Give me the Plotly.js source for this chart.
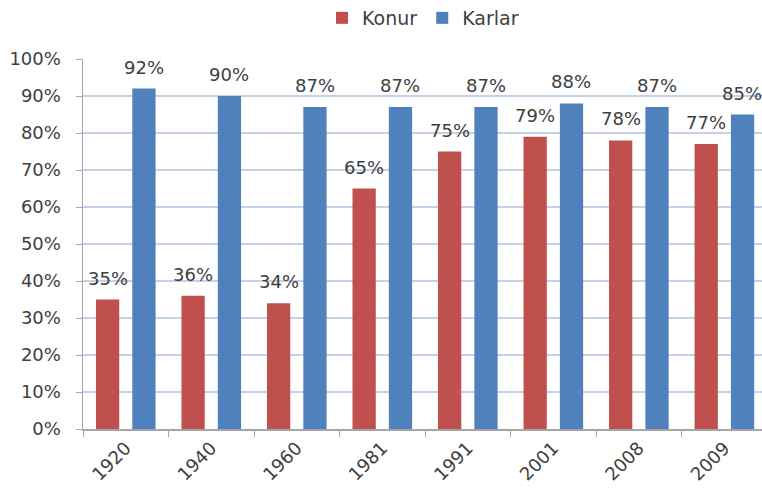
<!DOCTYPE html>
<html>
<head>
<meta charset="utf-8">
<script src="https://cdn.plot.ly/plotly-3.0.1.min.js"></script>
<style>html,body{margin:0;padding:0;background:#fff;}#chart{width:762px;height:491px;}</style>
</head>
<body>
<div id="chart"></div>
<script>
var years = ["1920", "1940", "1960", "1981", "1991", "2001", "2008", "2009"];
var konur = [35, 36, 34, 65, 75, 79, 78, 77];
var karlar = [92, 90, 87, 87, 87, 88, 87, 85];
var seriesNames = ["Konur", "Karlar"];
var seriesColors = ["#c0504d", "#4f81bd"];

var FONT = "DejaVu Sans, Liberation Sans, sans-serif";
var TXT = "#404040";

var traces = [
  {type: "bar", name: seriesNames[0], x: years, y: konur, marker: {color: seriesColors[0]}, hoverinfo: "none"},
  {type: "bar", name: seriesNames[1], x: years, y: karlar, marker: {color: seriesColors[1]}, hoverinfo: "none"}
];

var annotations = [];
[konur, karlar].forEach(function (vals, s) {
  vals.forEach(function (v, i) {
    annotations.push({
      x: i, y: v, xref: "x", yref: "y",
      text: v + "%", showarrow: false,
      xanchor: "center", yanchor: "bottom",
      xshift: s === 0 ? -18 : 18, yshift: 9,
      font: {family: FONT, size: 18, color: TXT}
    });
  });
});

var layout = {
  width: 762, height: 491,
  margin: {l: 83, r: 0, t: 59, b: 62, pad: 0},
  paper_bgcolor: "#ffffff", plot_bgcolor: "#ffffff",
  barmode: "group", bargap: 0.15, bargroupgap: 0.36,
  font: {family: FONT, size: 18, color: TXT},
  showlegend: true,
  legend: {
    orientation: "h", xref: "container", yref: "container",
    x: 322 / 762, xanchor: "left", y: 1 - 18 / 491, yanchor: "middle",
    font: {family: FONT, size: 19, color: TXT},
    itemwidth: 30, traceorder: "normal"
  },
  xaxis: {
    type: "category", range: [-0.5, 7.44],
    showline: true, linecolor: "#a6a6a6", linewidth: 1.5,
    ticks: "outside", tickson: "boundaries", ticklen: 6, tickcolor: "#a6a6a6",
    tickangle: -45, showgrid: false,
    tickfont: {family: FONT, size: 18, color: TXT}
  },
  yaxis: {
    range: [0, 100], dtick: 10, ticksuffix: "%",
    showline: true, linecolor: "#a6a6a6", linewidth: 1.5,
    ticks: "outside", ticklen: 6, tickcolor: "#a6a6a6",
    showgrid: true, gridcolor: "#c3d2ea", gridwidth: 1.2,
    zeroline: false,
    tickfont: {family: FONT, size: 18, color: TXT},
    ticklabelstandoff: 11
  },
  annotations: annotations
};

Plotly.newPlot("chart", traces, layout, {staticPlot: true, displayModeBar: false});
</script>
</body>
</html>
